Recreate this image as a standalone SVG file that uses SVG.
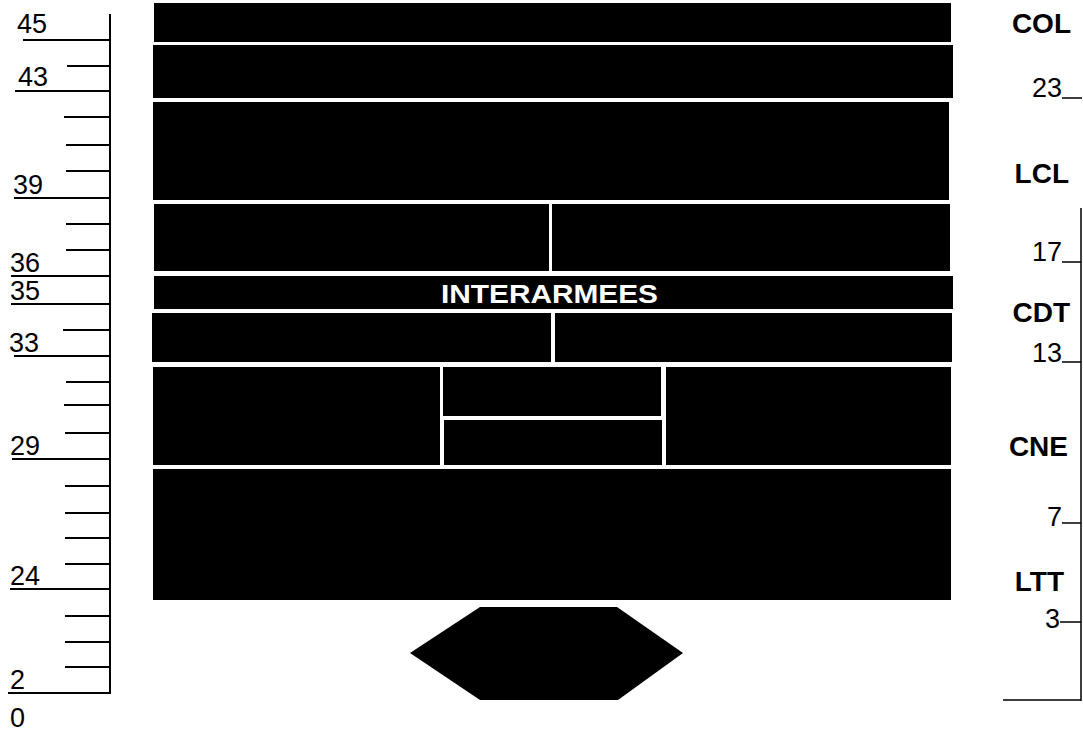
<svg xmlns="http://www.w3.org/2000/svg" width="1083" height="731" viewBox="0 0 1083 731">
<style>
.blk{fill:#000;}
.tk{stroke:#000;stroke-width:2;fill:none;}
.tkr{stroke:#000;stroke-width:1.5;fill:none;}
.num{font-family:"Liberation Sans",Arial,sans-serif;font-size:27px;fill:#000;}
.rk{font-family:"Liberation Sans",Arial,sans-serif;font-size:28px;font-weight:bold;fill:#000;}
.wt{font-family:"Liberation Sans",Arial,sans-serif;font-size:25px;font-weight:bold;fill:#fff;}
</style>
<rect width="1083" height="731" fill="#fff"/>
<g id="scale-left">
<line class="tk" x1="110" y1="14" x2="110" y2="694"/>
<path class="tk" d="M23 40H110 M67 66H110 M15 91H110 M64 117H110 M66 145H110 M66 171H110 M14 198H110 M66 224H110 M66 250H110 M11 276H110 M11 304H110 M63 330H110 M14 356H110 M66 382H110 M64 405H110 M65 433H110 M12 459H110 M65 486H110 M65 513H110 M65 538H110 M65 564H110 M10 589H110 M65 616H110 M65 642H110 M65 667H110 M8 693H110"/>
<text class="num" x="17" y="33">45</text>
<text class="num" x="18" y="86">43</text>
<text class="num" x="13" y="194">39</text>
<text class="num" x="10" y="272">36</text>
<text class="num" x="10" y="300">35</text>
<text class="num" x="9" y="352">33</text>
<text class="num" x="10" y="455">29</text>
<text class="num" x="10" y="585">24</text>
<text class="num" x="10" y="689">2</text>
<text class="num" x="10" y="727">0</text>
</g>
<g id="scale-right">
<line class="tkr" x1="1081" y1="208" x2="1081" y2="701"/>
<path class="tkr" d="M1062 98H1082 M1062 262H1081 M1062 362H1081 M1062 523H1081 M1060 622H1081 M1003 700H1081"/>
<text class="rk" x="1071" y="33" text-anchor="end">COL</text>
<text class="num" x="1062" y="97" text-anchor="end">23</text>
<text class="rk" x="1069" y="183" text-anchor="end">LCL</text>
<text class="num" x="1062" y="261" text-anchor="end">17</text>
<text class="rk" x="1070" y="322" text-anchor="end">CDT</text>
<text class="num" x="1062" y="362" text-anchor="end">13</text>
<text class="rk" x="1068" y="456" text-anchor="end">CNE</text>
<text class="num" x="1062" y="526" text-anchor="end">7</text>
<text class="rk" x="1064" y="591" text-anchor="end">LTT</text>
<text class="num" x="1060" y="628" text-anchor="end">3</text>
</g>
<g id="row-45"><rect class="blk" x="154" y="3" width="797" height="39"/></g>
<g id="row-43"><rect class="blk" x="153" y="45" width="800" height="53"/></g>
<g id="row-39"><rect class="blk" x="153" y="102" width="796" height="98"/></g>
<g id="row-36-left"><rect class="blk" x="154" y="204" width="395" height="67"/></g>
<g id="row-36-right"><rect class="blk" x="552" y="204" width="398" height="67"/></g>
<g id="row-interarmees"><rect class="blk" x="154" y="276" width="799" height="33"/>
<text class="wt" x="441" y="303" textLength="217" lengthAdjust="spacingAndGlyphs">INTERARMEES</text></g>
<g id="row-33-left"><rect class="blk" x="152" y="313" width="399" height="49"/></g>
<g id="row-33-right"><rect class="blk" x="555" y="313" width="397" height="49"/></g>
<g id="row-29-left"><rect class="blk" x="153" y="367" width="287" height="98"/></g>
<g id="row-29-mid-top"><rect class="blk" x="443" y="367" width="218" height="49"/></g>
<g id="row-29-mid-bottom"><rect class="blk" x="444" y="420" width="218" height="45"/></g>
<g id="row-29-right"><rect class="blk" x="666" y="367" width="285" height="98"/></g>
<g id="row-24"><rect class="blk" x="153" y="469" width="798" height="131"/></g>
<g id="hexagon"><polygon class="blk" points="410,653 480,607 617,607 683,653 618,700 480,700"/></g>
</svg>
